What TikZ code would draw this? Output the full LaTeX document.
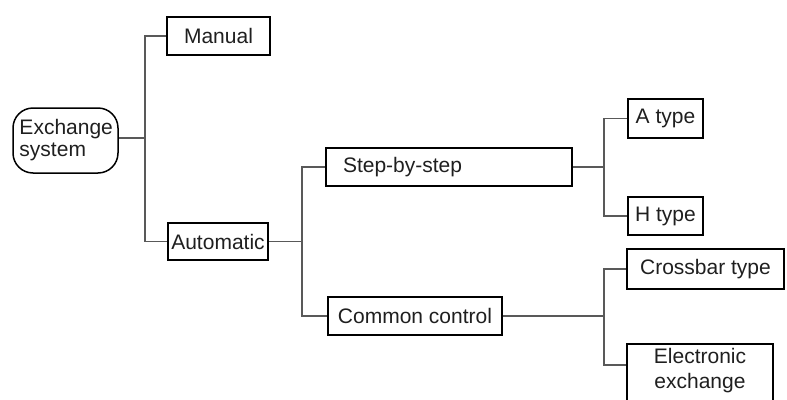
\documentclass[tikz,border=0pt]{standalone}
\usepackage{fontspec}
\setmainfont{Liberation Sans}
\usetikzlibrary{calc}
\begin{document}
\begin{tikzpicture}[x=1pt,y=-1pt,
  txt/.style={font=\fontsize{21}{22}\selectfont, text=black!88},
  box/.style={txt, draw=black, line width=2.2pt, inner sep=0pt},
  link/.style={draw=black!65, line width=1.1pt}]
\useasboundingbox (0,0) rectangle (787,399);
\clip (0,0) rectangle (787,399);

% root
\node[txt, draw=black, line width=1.5pt, rounded corners=20pt, inner sep=0pt,
      minimum width=105, minimum height=65, text width=92pt, align=left]
      (ex) at (65.5,140.5) {Exchange\\system};

% first level
\node[box, minimum width=103, minimum height=38] (man) at (218.5,36) {Manual};
\node[box, minimum width=100, minimum height=37] (auto) at (218,241.5) {Automatic};

% second level
\node[box, minimum height=38, text width=212pt, inner xsep=17pt, align=left]
      (step) at (449,167) {Step-by-step};
\node[box, minimum width=174, minimum height=38] (cc) at (415,316) {Common control};

% third level
\node[box, minimum width=75, minimum height=39] (at) at (665.5,118.5) {A type};
\node[box, minimum width=75, minimum height=38] (ht) at (665.5,216) {H type};
\node[box, minimum width=157, minimum height=40] (cb) at (705.5,269) {Crossbar type};
\node[box, anchor=north, minimum width=146, inner ysep=4pt, text depth=40pt,
      align=center, font=\fontsize{21}{25}\selectfont]
      (el) at (700,343) {Electronic\\exchange};

% junctions
\coordinate (j1) at (145,138);
\coordinate (j2) at (302,241.5);
\coordinate (j3) at (604,167);
\coordinate (j4) at (604,316);

% connectors
\draw[link] (ex.east |- j1) -- (j1);
\draw[link] (man.west) -| (j1) |- (auto.west);
\draw[link] (auto.east) -- (j2);
\draw[link] (step.west) -| (j2) |- (cc.west);
\draw[link] (step.east) -- (j3);
\draw[link] (at.west) -| (j3) |- (ht.west);
\draw[link] (cc.east) -- (j4);
\draw[link] (cb.west) -| (j4) |- ($(el.north west)+(0,22)$);
\end{tikzpicture}
\end{document}
